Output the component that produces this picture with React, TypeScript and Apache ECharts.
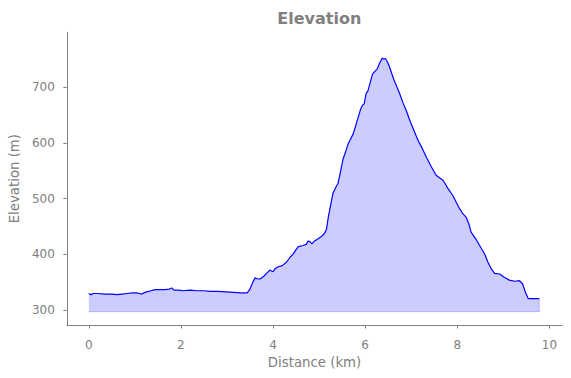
import React, { useEffect, useRef } from "react";
import * as echarts from "echarts";

const distanceKm: number[] = [
  0.0, 0.05, 0.1, 0.2, 0.35, 0.5, 0.61, 0.72, 0.83, 0.95, 1.04, 1.1, 1.15, 1.22, 1.26, 1.35, 1.44, 1.55, 1.65, 1.75,
  1.8, 1.85, 1.95, 2.05, 2.2, 2.35, 2.49, 2.65, 2.8, 2.99, 3.15, 3.3, 3.44, 3.5, 3.56, 3.61, 3.67, 3.72, 3.8, 3.86,
  3.93, 4.0, 4.05, 4.11, 4.2, 4.29, 4.37, 4.44, 4.51, 4.55, 4.65, 4.72, 4.76, 4.8, 4.84, 4.9, 4.98, 5.05, 5.12, 5.16,
  5.2, 5.25, 5.3, 5.36, 5.41, 5.47, 5.52, 5.58, 5.63, 5.68, 5.74, 5.8, 5.85, 5.9, 5.94, 5.98, 6.02, 6.06, 6.1, 6.16,
  6.21, 6.26, 6.31, 6.37, 6.4, 6.44, 6.47, 6.52, 6.57, 6.62, 6.68, 6.75, 6.82, 6.9, 6.97, 7.05, 7.15, 7.24, 7.33, 7.43,
  7.54, 7.62, 7.69, 7.8, 7.9, 7.98, 8.05, 8.12, 8.19, 8.25, 8.3, 8.4, 8.52, 8.6, 8.66, 8.74, 8.81, 8.92, 9.02, 9.13,
  9.25, 9.35, 9.42, 9.48, 9.54, 9.65, 9.78,
];

const elevationM: number[] = [
  330, 328, 330, 330, 329, 329, 328, 329, 330, 331, 331, 330, 329, 332, 333, 335, 337, 337, 337, 338,
  340, 336, 336, 335, 336, 335, 335, 334, 334, 333, 332, 331, 331, 338, 350, 358, 356, 356, 361, 366,
  372, 369, 375, 378, 380, 386, 395, 401, 410, 414, 416, 418, 424, 423, 419, 424, 428, 432, 438, 445,
  467, 488, 509, 520, 527, 550, 571, 585, 598, 606, 616, 632, 646, 660, 667, 670, 688, 693, 705, 723,
  728, 732, 742, 752, 750, 751, 747, 738, 726, 714, 702, 688, 672, 656, 640, 624, 604, 590, 574, 558,
  542, 537, 533, 518, 506, 493, 482, 473, 467, 455, 440, 428, 411, 400, 387, 374, 366, 365, 359, 354,
  352, 353, 347, 332, 321, 321, 321,
];

const fillBaseline = 297.5;
const xTicks: number[] = [0, 2, 4, 6, 8, 10];
const yTicks: number[] = [300, 400, 500, 600, 700];

const GRAY = "#808080";
const FONT = "DejaVu Sans";

export default function App() {
  const ref = useRef<HTMLDivElement>(null);
  useEffect(() => {
    if (!ref.current) return;
    const chart = echarts.init(ref.current, undefined, { renderer: "svg" });
    const lineData = distanceKm.map((d, i) => [d, elevationM[i]]);
    const last = distanceKm.length - 1;
    const borderData = [
      [distanceKm[0], fillBaseline],
      [distanceKm[last], fillBaseline],
      [distanceKm[last], elevationM[last]],
    ];
    chart.setOption({
      animation: false,
      title: {
        text: "Elevation",
        left: 314.3,
        top: 5,
        textAlign: "center",
        textStyle: { color: GRAY, fontFamily: FONT, fontSize: 16, fontWeight: "bold" },
      },
      grid: { left: 66.3, right: 8.7, top: 32.3, bottom: 53, containLabel: false },
      xAxis: {
        type: "value",
        min: -0.477,
        max: 10.28,
        name: "Distance (km)",
        nameLocation: "middle",
        nameGap: 28,
        nameTextStyle: { color: GRAY, fontFamily: FONT, fontSize: 13.3 },
        axisLine: { show: true, onZero: false, lineStyle: { color: GRAY, width: 1 } },
        axisTick: { show: true, inside: false, length: 3.5, customValues: xTicks, lineStyle: { color: GRAY } },
        axisLabel: { color: GRAY, fontFamily: FONT, fontSize: 12, margin: 14, customValues: xTicks },
        splitLine: { show: false },
      },
      yAxis: {
        type: "value",
        min: 273.6,
        max: 798,
        name: "Elevation (m)",
        nameLocation: "middle",
        nameGap: 39,
        nameTextStyle: { color: GRAY, fontFamily: FONT, fontSize: 13.3 },
        axisLine: { show: true, onZero: false, lineStyle: { color: GRAY, width: 1 } },
        axisTick: { show: true, inside: false, length: 3.5, customValues: yTicks, lineStyle: { color: GRAY } },
        axisLabel: { color: GRAY, fontFamily: FONT, fontSize: 12, margin: 12, customValues: yTicks },
        splitLine: { show: false },
      },
      series: [
        {
          type: "line",
          data: lineData,
          showSymbol: false,
          symbol: "none",
          lineStyle: { color: "#0000ff", width: 1.2 },
          areaStyle: { color: "rgba(0,0,255,0.2)", origin: fillBaseline, opacity: 1 },
          z: 3,
        },
        {
          type: "line",
          data: borderData,
          showSymbol: false,
          symbol: "none",
          lineStyle: { color: "rgba(0,0,255,0.2)", width: 1 },
          z: 2,
        },
      ],
    });
    return () => chart.dispose();
  }, []);
  return <div ref={ref} style={{ width: 571, height: 378, position: "absolute", left: 0, top: 0 }} />;
}
